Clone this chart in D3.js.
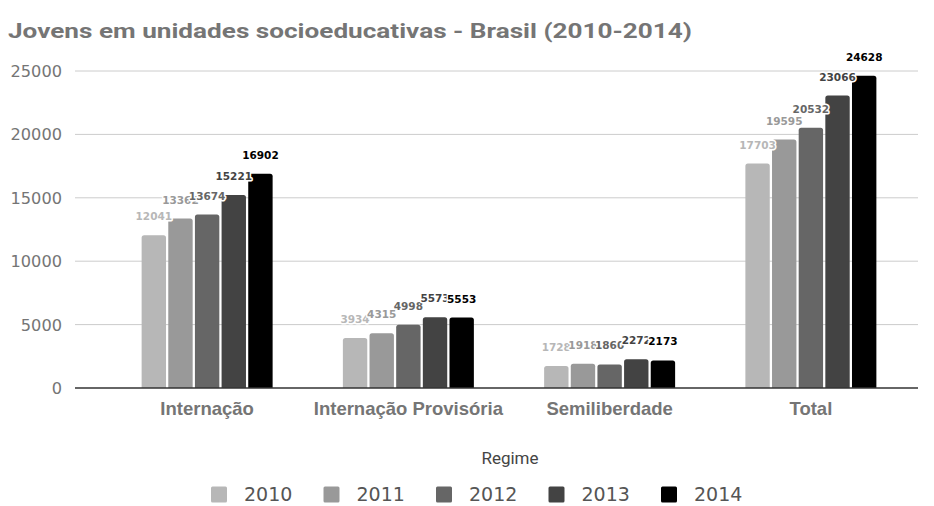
<!DOCTYPE html>
<html>
<head>
<meta charset="utf-8">
<script src="https://cdn.jsdelivr.net/npm/d3@7"></script>
<style>
  html, body { margin: 0; padding: 0; background: #fff; }
  svg { display: block; }
</style>
</head>
<body>
<svg id="chart" width="934" height="506"></svg>
<script>
const title = "Jovens em unidades socioeducativas - Brasil (2010-2014)";
const categories = ["Internação", "Internação Provisória", "Semiliberdade", "Total"];
const years = ["2010", "2011", "2012", "2013", "2014"];
const v2010 = [12041, 3934, 1728, 17703];
const v2011 = [13362, 4315, 1918, 19595];
const v2012 = [13674, 4998, 1860, 20532];
const v2013 = [15221, 5573, 2272, 23066];
const v2014 = [16902, 5553, 2173, 24628];
const yTicks = [0, 5000, 10000, 15000, 20000, 25000];
const xTitle = "Regime";
const colors = ["#b7b7b7", "#999999", "#666666", "#434343", "#000000"];

const series = [v2010, v2011, v2012, v2013, v2014];

const svg = d3.select("#chart");

const x0 = d3.scaleBand().domain(categories).range([106.5, 911.5]);
const groupW = 131;
const x1 = d3.scaleBand().domain(years).range([0, groupW]).paddingInner(0.085);
const y = d3.scaleLinear().domain([0, 25000]).range([388, 71]);

// Title
svg.append("text")
  .attr("x", 8).attr("y", 38)
  .attr("font-family", "Roboto, sans-serif")
  .attr("font-weight", "bold")
  .attr("font-size", 21)
  .attr("fill", "#757575")
  .attr("textLength", 684)
  .attr("lengthAdjust", "spacingAndGlyphs")
  .text(title);

// Grid
svg.append("g").selectAll("line").data(yTicks.filter(t => t !== 0)).join("line")
  .attr("x1", 75).attr("x2", 918)
  .attr("y1", d => y(d)).attr("y2", d => y(d))
  .attr("stroke", "#cccccc").attr("stroke-width", 1);

// Y tick labels
svg.append("g").selectAll("text").data(yTicks).join("text")
  .attr("x", 62).attr("y", d => y(d) + 6)
  .attr("text-anchor", "end")
  .attr("font-family", "DejaVu Sans, sans-serif")
  .attr("font-size", 16.2)
  .attr("fill", "#757575")
  .text(d => d);

// Bars
function topRounded(x, yTop, w, h, r) {
  r = Math.min(r, h, w / 2);
  return `M${x},${yTop + h}V${yTop + r}Q${x},${yTop} ${x + r},${yTop}H${x + w - r}Q${x + w},${yTop} ${x + w},${yTop + r}V${yTop + h}Z`;
}

const groupOffset = x0.bandwidth() / 2 - groupW / 2;

const barsG = svg.append("g");
series.forEach((vals, si) => {
  barsG.append("g").selectAll("path").data(vals).join("path")
    .attr("d", (d, i) => {
      const bx = x0(categories[i]) + groupOffset + x1(years[si]);
      return topRounded(bx, y(d), x1.bandwidth(), y(0) - y(d), 2.5);
    })
    .attr("fill", colors[si]);
});

// Baseline
svg.append("line")
  .attr("x1", 75).attr("x2", 918)
  .attr("y1", y(0)).attr("y2", y(0))
  .attr("stroke", "#333333").attr("stroke-width", 1.5);

// Data labels (later years drawn on top)
const labelsG = svg.append("g");
categories.forEach((c, i) => {
  series.forEach((vals, si) => {
    const cx = x0(c) + groupOffset + x1(years[si]) + x1.bandwidth() / 2;
    labelsG.append("text")
      .attr("x", cx).attr("y", y(vals[i]) - 15)
      .attr("text-anchor", "middle")
      .attr("font-family", "DejaVu Sans, sans-serif")
      .attr("font-weight", "bold")
      .attr("font-size", 10.5)
      .attr("fill", colors[si])
      .attr("stroke", "#ffffff")
      .attr("stroke-width", 3)
      .attr("stroke-linejoin", "round")
      .attr("paint-order", "stroke")
      .text(vals[i]);
  });
});

// Category labels
svg.append("g").selectAll("text").data(categories).join("text")
  .attr("x", d => x0(d) + x0.bandwidth() / 2)
  .attr("y", 415)
  .attr("text-anchor", "middle")
  .attr("font-family", "Liberation Sans, Arial, sans-serif")
  .attr("font-weight", "bold")
  .attr("font-size", 18.5)
  .attr("fill", "#757575")
  .text(d => d);

// X axis title
svg.append("text")
  .attr("x", 510).attr("y", 464)
  .attr("text-anchor", "middle")
  .attr("font-family", "Roboto, sans-serif")
  .attr("font-size", 17)
  .attr("fill", "#444444")
  .text(xTitle);

// Legend
const legX = d3.scaleBand().domain(years).range([211, 211 + 112.5 * 5]);
const leg = svg.append("g").selectAll("g").data(years).join("g")
  .attr("transform", d => `translate(${legX(d)},0)`);
leg.append("rect")
  .attr("x", 0).attr("y", 486.5).attr("width", 16).attr("height", 16)
  .attr("rx", 1.5)
  .attr("fill", (d, i) => colors[i]);
leg.append("text")
  .attr("x", 33).attr("y", 501)
  .attr("font-family", "DejaVu Sans, sans-serif")
  .attr("font-size", 19)
  .attr("fill", "#555555")
  .text(d => d);
</script>
</body>
</html>
